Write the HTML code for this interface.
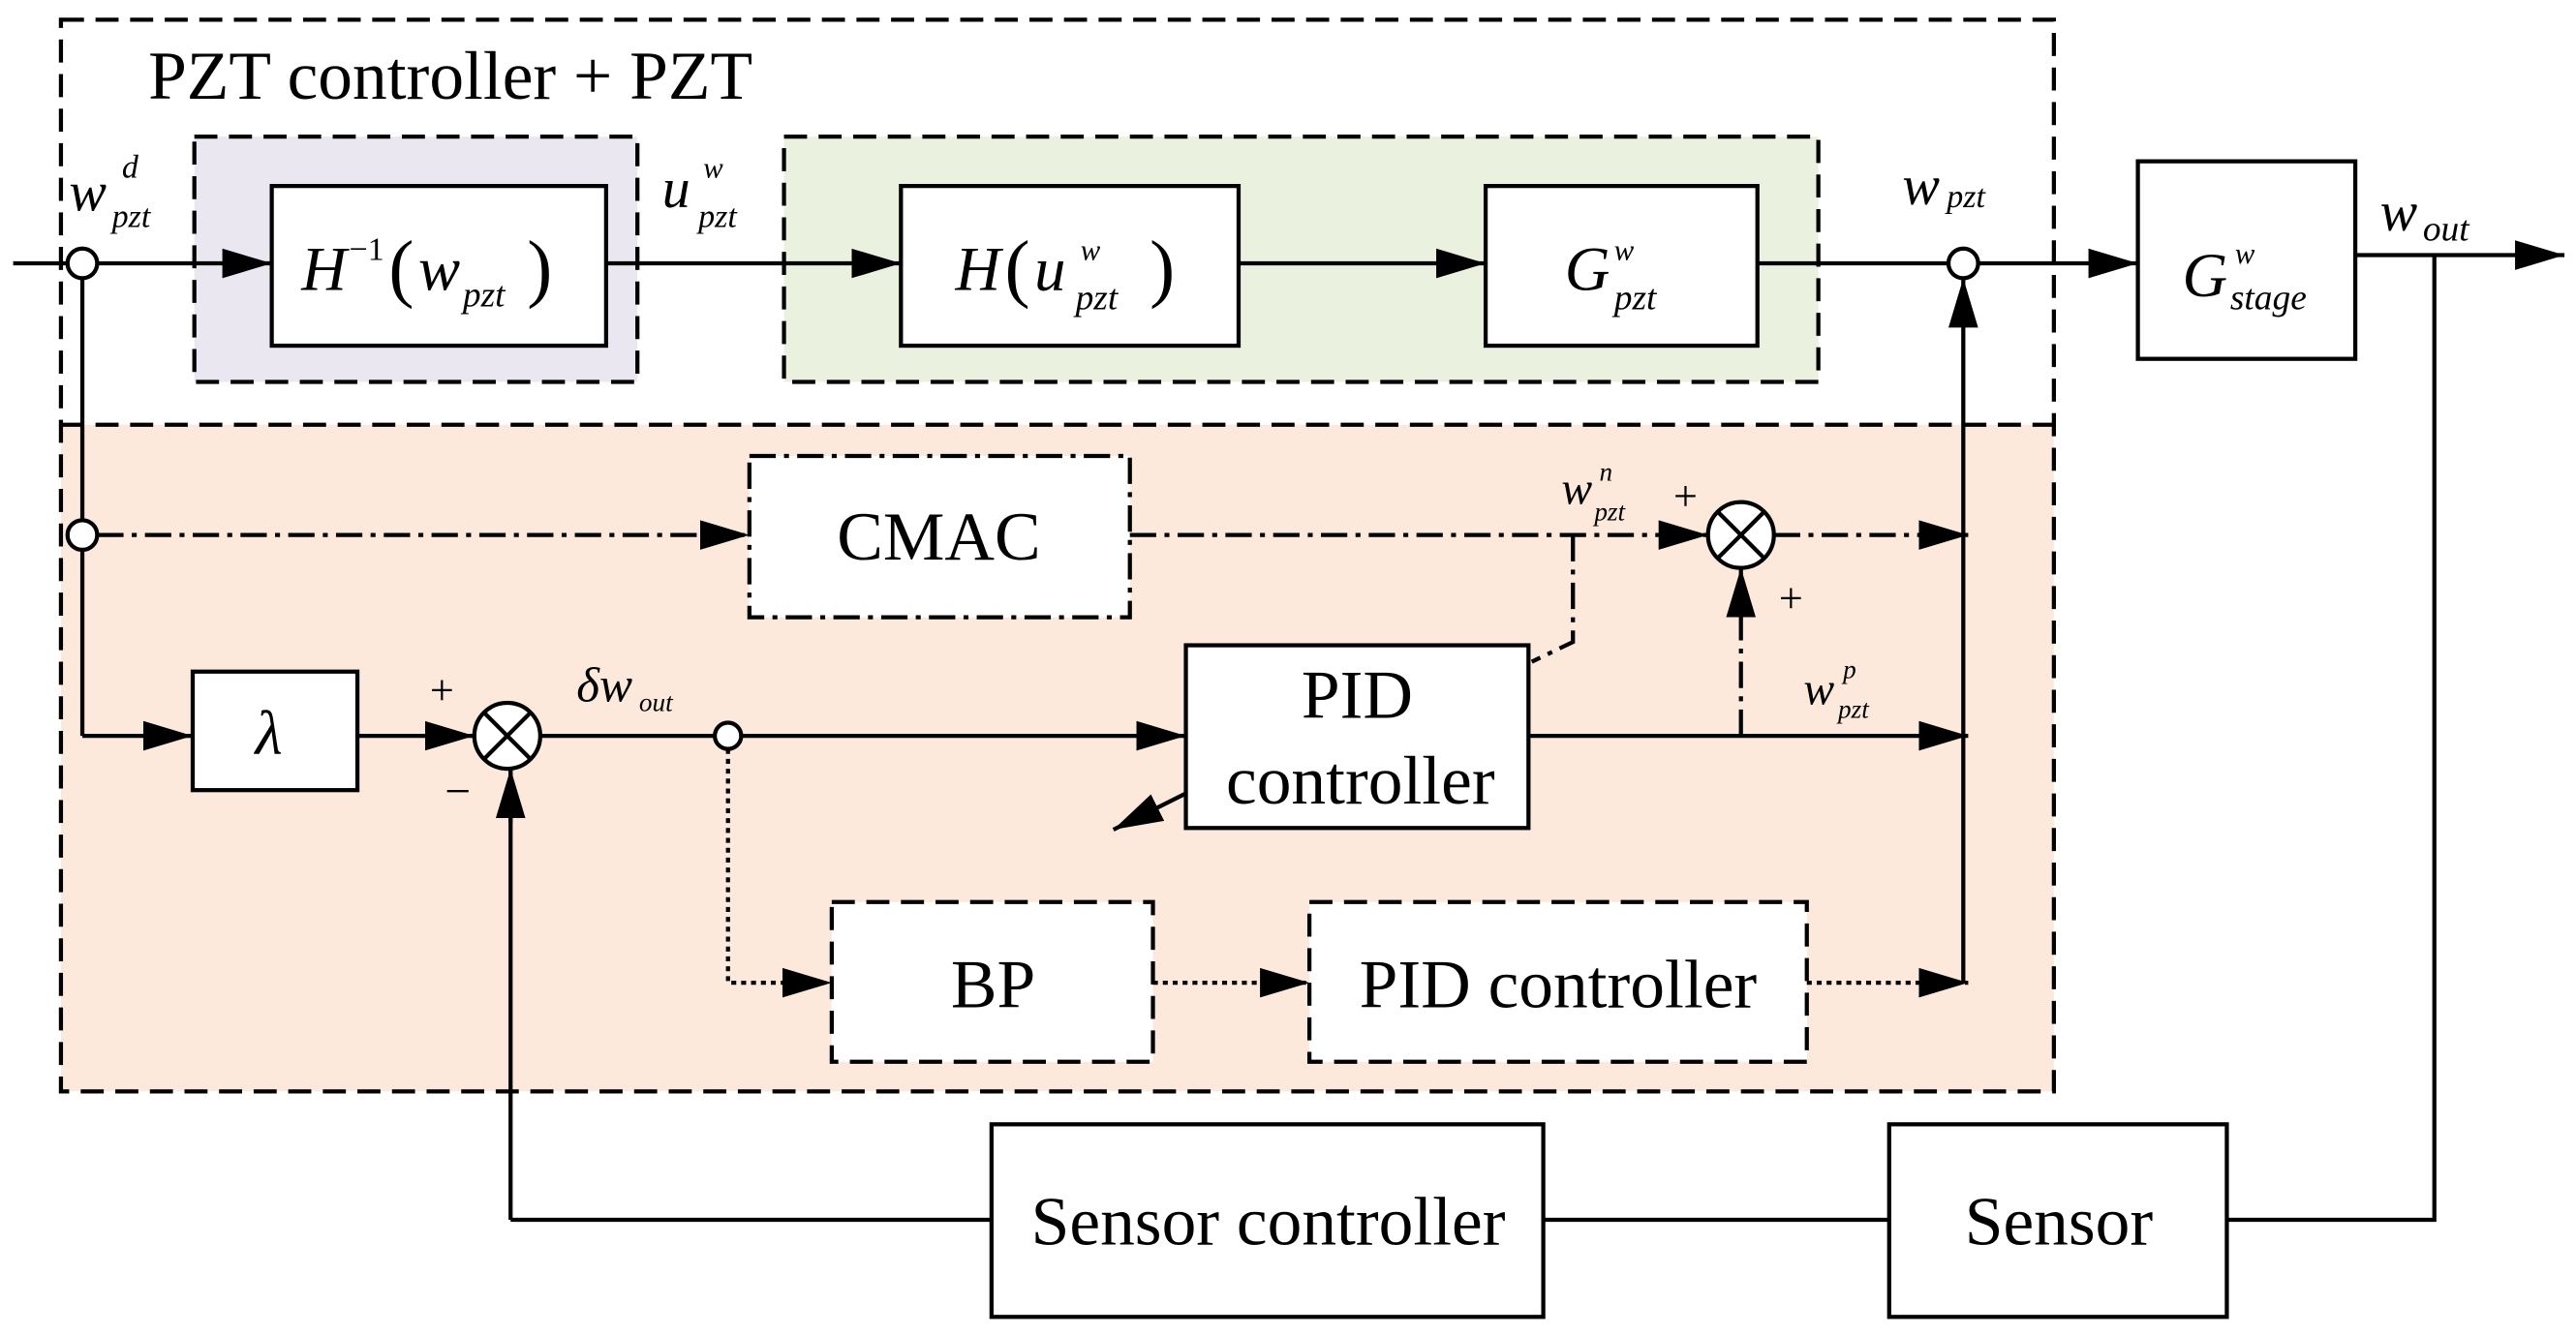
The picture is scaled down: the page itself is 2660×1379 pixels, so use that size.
<!DOCTYPE html>
<html><head><meta charset="utf-8"><style>
html,body{margin:0;padding:0;background:#fff;}
svg{display:block;}
text{font-family:"Liberation Serif",serif;fill:#000;}
.i{font-style:italic;}
</style></head><body>
<svg width="2660" height="1379" viewBox="0 0 1564 811" preserveAspectRatio="none" xmlns="http://www.w3.org/2000/svg">
<defs>
<marker id="a" markerUnits="userSpaceOnUse" markerWidth="32" markerHeight="22" refX="30" refY="11" orient="auto">
<path d="M0,2 L30,11 L0,20 Z" fill="#000"/></marker>
</defs>
<rect x="37" y="258" width="1210" height="405" fill="#fde9db"/>
<rect x="118" y="83" width="269" height="149" fill="#ebe7f1" stroke="#000" stroke-width="2.5" stroke-dasharray="14,7"/>
<rect x="476" y="83" width="628" height="149" fill="#ebf1df" stroke="#000" stroke-width="2.5" stroke-dasharray="14,7"/>
<rect x="37" y="12" width="1210" height="651" fill="none" stroke="#000" stroke-width="2.5" stroke-dasharray="14,7"/>
<line x1="37" y1="258" x2="1247" y2="258" stroke="#000" stroke-width="2.5" stroke-dasharray="14,7"/>
<text x="90" y="60" font-size="42">PZT controller + PZT</text>

<g stroke="#000" stroke-width="2.5" fill="#fff">
<rect x="165" y="113" width="203" height="97"/>
<rect x="547" y="113" width="205" height="97"/>
<rect x="902" y="113" width="165" height="97"/>
<rect x="1298" y="98" width="132" height="120"/>
<rect x="117" y="408" width="100" height="72"/>
<rect x="720" y="392" width="208" height="111"/>
<rect x="602" y="683" width="335" height="117"/>
<rect x="1147" y="683" width="205" height="117"/>
<rect x="455" y="277" width="231" height="98" stroke-dasharray="16,5,3,5"/>
<rect x="505" y="548" width="195" height="97" stroke-dasharray="14,7"/>
<rect x="795" y="548" width="302" height="97" stroke-dasharray="14,7"/>
</g>

<g stroke="#000" stroke-width="2.5" fill="none">
<line x1="8" y1="160" x2="41" y2="160"/>
<line x1="59" y1="160" x2="165" y2="160" marker-end="url(#a)"/>
<line x1="368" y1="160" x2="547" y2="160" marker-end="url(#a)"/>
<line x1="752" y1="160" x2="902" y2="160" marker-end="url(#a)"/>
<line x1="1067" y1="160" x2="1183" y2="160"/>
<line x1="1201" y1="160" x2="1298" y2="160" marker-end="url(#a)"/>
<line x1="1430" y1="155" x2="1557" y2="155" marker-end="url(#a)"/>
<line x1="50" y1="169" x2="50" y2="316"/>
<line x1="50" y1="334" x2="50" y2="447"/>
<line x1="50" y1="447" x2="117" y2="447" marker-end="url(#a)"/>
<line x1="217" y1="447" x2="288" y2="447" marker-end="url(#a)"/>
<line x1="328" y1="447" x2="434" y2="447"/>
<line x1="450" y1="447" x2="720" y2="447" marker-end="url(#a)"/>
<line x1="928" y1="447" x2="1195" y2="447" marker-end="url(#a)"/>
<line x1="720" y1="482" x2="676" y2="504" marker-end="url(#a)"/>
<line x1="1192" y1="597" x2="1192" y2="169" marker-end="url(#a)"/>
<polyline points="310,741 310,467"/>
<line x1="310" y1="500" x2="310" y2="467" marker-end="url(#a)"/>
<line x1="310" y1="741" x2="602" y2="741"/>
<line x1="937" y1="741" x2="1147" y2="741"/>
<polyline points="1352,741 1478,741 1478,155"/>
</g>
<g stroke="#000" stroke-width="2.5" fill="none" stroke-dasharray="16,5,3,5">
<line x1="59" y1="325" x2="455" y2="325" marker-end="url(#a)"/>
<line x1="686" y1="325" x2="1037" y2="325" marker-end="url(#a)"/>
<line x1="1077" y1="325" x2="1195" y2="325" marker-end="url(#a)"/>
<line x1="1057" y1="447" x2="1057" y2="345" marker-end="url(#a)"/>
<polyline points="955,325 955,390 930,402"/>
</g>
<g stroke="#000" stroke-width="2.5" fill="none" stroke-dasharray="3,3">
<polyline points="442,455 442,597 505,597" marker-end="url(#a)"/>
<line x1="700" y1="597" x2="795" y2="597" marker-end="url(#a)"/>
<line x1="1097" y1="597" x2="1195" y2="597" marker-end="url(#a)"/>
</g>
<g stroke="#000" stroke-width="2.5" fill="#fff">
<circle cx="50" cy="160" r="9"/>
<circle cx="50" cy="325" r="9"/>
<circle cx="1192" cy="160" r="9"/>
<circle cx="442" cy="447" r="8"/>
<circle cx="308" cy="447" r="20"/>
<circle cx="1057" cy="325" r="20"/>
</g>
<g stroke="#000" stroke-width="2.5">
<line x1="294" y1="433" x2="322" y2="461"/><line x1="322" y1="433" x2="294" y2="461"/>
<line x1="1043" y1="311" x2="1071" y2="339"/><line x1="1071" y1="311" x2="1043" y2="339"/>
</g>

<text x="183" y="176" font-size="38" class="i">H</text><text x="212" y="158" font-size="20">−1</text>
<text x="236" y="178" font-size="46">(</text><text x="254" y="176" font-size="38" class="i">w</text><text x="281" y="186" font-size="22" class="i">pzt</text><text x="320" y="178" font-size="46">)</text>
<text x="580" y="176" font-size="38" class="i">H</text><text x="610" y="178" font-size="46">(</text><text x="628" y="176" font-size="38" class="i">u</text><text x="656" y="158" font-size="18" class="i">w</text><text x="653" y="188" font-size="22" class="i">pzt</text><text x="698" y="178" font-size="46">)</text>
<text x="950" y="176" font-size="38" class="i">G</text><text x="980" y="158" font-size="18" class="i">w</text><text x="980" y="188" font-size="22" class="i">pzt</text>
<text x="1325" y="180" font-size="38" class="i">G</text><text x="1357" y="160" font-size="18" class="i">w</text><text x="1354" y="188" font-size="22" class="i">stage</text>
<text x="155" y="458" font-size="38" class="i">λ</text>
<text x="570" y="340" font-size="42" text-anchor="middle">CMAC</text>
<text x="824" y="436" font-size="42" text-anchor="middle">PID</text>
<text x="826" y="488" font-size="42" text-anchor="middle">controller</text>
<text x="603" y="612" font-size="42" text-anchor="middle">BP</text>
<text x="946" y="612" font-size="42" text-anchor="middle">PID controller</text>
<text x="770" y="756" font-size="42" text-anchor="middle">Sensor controller</text>
<text x="1250" y="756" font-size="42" text-anchor="middle">Sensor</text>

<text x="42" y="128" font-size="34" class="i">w</text><text x="74" y="108" font-size="20" class="i">d</text><text x="68" y="138" font-size="20" class="i">pzt</text>
<text x="402" y="126" font-size="34" class="i">u</text><text x="427" y="108" font-size="18" class="i">w</text><text x="424" y="138" font-size="20" class="i">pzt</text>
<text x="1155" y="124" font-size="34" class="i">w</text><text x="1182" y="126" font-size="20" class="i">pzt</text>
<text x="1445" y="140" font-size="34" class="i">w</text><text x="1471" y="146" font-size="22" class="i">out</text>
<text x="948" y="306" font-size="28" class="i">w</text><text x="971" y="292" font-size="16" class="i">n</text><text x="968" y="316" font-size="16" class="i">pzt</text>
<text x="1095" y="428" font-size="28" class="i">w</text><text x="1119" y="412" font-size="16" class="i">p</text><text x="1116" y="436" font-size="16" class="i">pzt</text>
<text x="350" y="426" font-size="30" class="i">δw</text><text x="388" y="432" font-size="16" class="i">out</text>
<text x="1016" y="310" font-size="26">+</text>
<text x="1080" y="372" font-size="26">+</text>
<text x="261" y="428" font-size="26">+</text>
<text x="270" y="490" font-size="28">−</text>
</svg>
</body></html>
